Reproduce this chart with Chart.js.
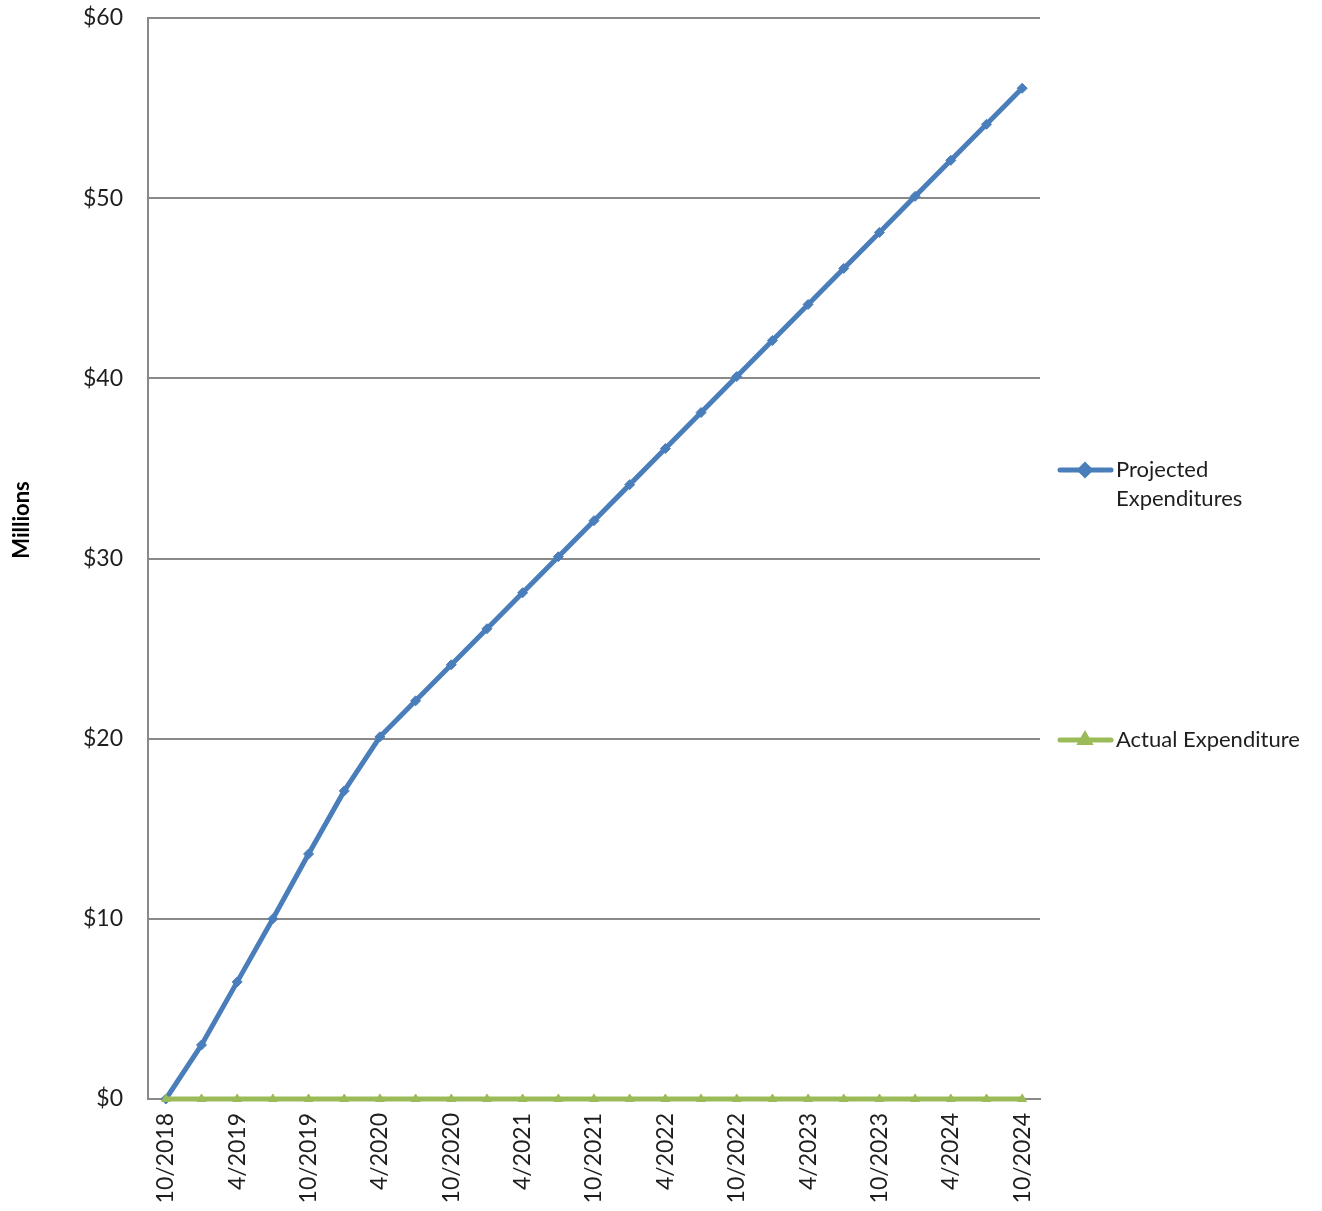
<!DOCTYPE html>
<html>
<head>
<meta charset="utf-8">
<script src="https://cdn.jsdelivr.net/npm/chart.js@4/dist/chart.umd.min.js"></script>
<style>
  html, body { margin: 0; padding: 0; background: #fff; }
  #wrap { width: 1322px; height: 1211px; }
</style>
</head>
<body>
<div id="wrap"><canvas id="expChart"></canvas></div>
<script>
// quarterly points, every other one gets a label
const quarters = [
  "10/2018", "1/2019", "4/2019", "7/2019", "10/2019", "1/2020", "4/2020", "7/2020",
  "10/2020", "1/2021", "4/2021", "7/2021", "10/2021", "1/2022", "4/2022", "7/2022",
  "10/2022", "1/2023", "4/2023", "7/2023", "10/2023", "1/2024", "4/2024", "7/2024", "10/2024"
];
const projected = [
  0, 3.0, 6.5, 10.0, 13.6, 17.1, 20.1, 22.1,
  24.1, 26.1, 28.1, 30.1, 32.1, 34.1, 36.1, 38.1,
  40.1, 42.1, 44.1, 46.1, 48.1, 50.1, 52.1, 54.1, 56.1
];
const actual = [
  0, 0, 0, 0, 0, 0, 0, 0,
  0, 0, 0, 0, 0, 0, 0, 0,
  0, 0, 0, 0, 0, 0, 0, 0, 0
];
const yTicks = [0, 10, 20, 30, 40, 50, 60];

const FONT = "Lato, 'Open Sans', sans-serif";
const TEXT = "#1e1e1e";
const GRID = "#898989";
const BLUE = "#4a7ebb";
const GREEN = "#9bbb59";

// right-hand legend and rotated axis title, drawn like the spreadsheet original
const sideBits = {
  id: "sideBits",
  afterDraw(chart) {
    const c = chart.ctx;
    const area = chart.chartArea;
    c.save();

    // y title
    c.fillStyle = "#000";
    c.font = "bold 22px " + FONT;
    c.textAlign = "center";
    c.textBaseline = "middle";
    c.translate(22, 520);
    c.rotate(-Math.PI / 2);
    c.fillText("Millions", 0, 0);
    c.setTransform(1, 0, 0, 1, 0, 0);
    c.scale(chart.currentDevicePixelRatio, chart.currentDevicePixelRatio);

    const items = [
      { color: BLUE, style: "rectRot", lines: ["Projected", "Expenditures"], y: 470 },
      { color: GREEN, style: "triangle", lines: ["Actual Expenditure"], y: 740 }
    ];
    const x0 = area.right + 18;
    items.forEach(it => {
      c.strokeStyle = it.color;
      c.lineWidth = 5;
      c.lineCap = "round";
      c.beginPath();
      c.moveTo(x0 + 2, it.y);
      c.lineTo(x0 + 53, it.y);
      c.stroke();
      c.fillStyle = it.color;
      Chart.helpers.drawPoint(c, { pointStyle: it.style, radius: 5, borderWidth: 1 }, x0 + 27, it.y);
      c.fillStyle = TEXT;
      c.font = "22px " + FONT;
      c.textAlign = "left";
      c.textBaseline = "middle";
      it.lines.forEach((t, i) => c.fillText(t, x0 + 58, it.y + i * 29));
    });
    c.restore();
  }
};

new Chart(document.getElementById("expChart"), {
  type: "line",
  data: {
    labels: quarters,
    datasets: [
      {
        label: "Projected Expenditures",
        data: projected,
        borderColor: BLUE,
        backgroundColor: BLUE,
        borderWidth: 5,
        pointStyle: "rectRot",
        pointRadius: 5,
        pointBorderWidth: 1,
        tension: 0,
        order: 1,
        clip: false
      },
      {
        label: "Actual Expenditure",
        data: actual,
        borderColor: GREEN,
        backgroundColor: GREEN,
        borderWidth: 5,
        pointStyle: "triangle",
        pointRadius: 5,
        pointBorderWidth: 1,
        tension: 0,
        order: 0,
        clip: false
      }
    ]
  },
  options: {
    responsive: true,
    maintainAspectRatio: false,
    animation: false,
    layout: { padding: { top: 18, right: 282, left: 0, bottom: 0 } },
    plugins: {
      legend: { display: false },
      title: { display: false },
      tooltip: { enabled: false }
    },
    scales: {
      x: {
        offset: true,
        grid: { display: false, drawTicks: false },
        border: { color: GRID, width: 2 },
        afterFit: s => { s.height = 112; },
        ticks: {
          autoSkip: false,
          maxRotation: 90,
          minRotation: 90,
          padding: 14,
          color: TEXT,
          font: { family: FONT, size: 23 },
          callback: (v, i) => (i % 2 === 0 ? quarters[i] : "")
        }
      },
      y: {
        min: 0,
        max: 60,
        // fixed width; drop the extra top/bottom room the tick padding adds
        afterFit: s => { s.width = 148; s.paddingTop = 0; s.paddingBottom = 0; },
        afterBuildTicks: s => { s.ticks = yTicks.map(v => ({ value: v })); },
        grid: { color: GRID, lineWidth: 2, drawTicks: false },
        border: { color: GRID, width: 2 },
        ticks: {
          padding: 25,
          color: TEXT,
          font: { family: FONT, size: 23 },
          callback: v => "$" + v
        }
      }
    }
  },
  plugins: [sideBits]
});
</script>
</body>
</html>
